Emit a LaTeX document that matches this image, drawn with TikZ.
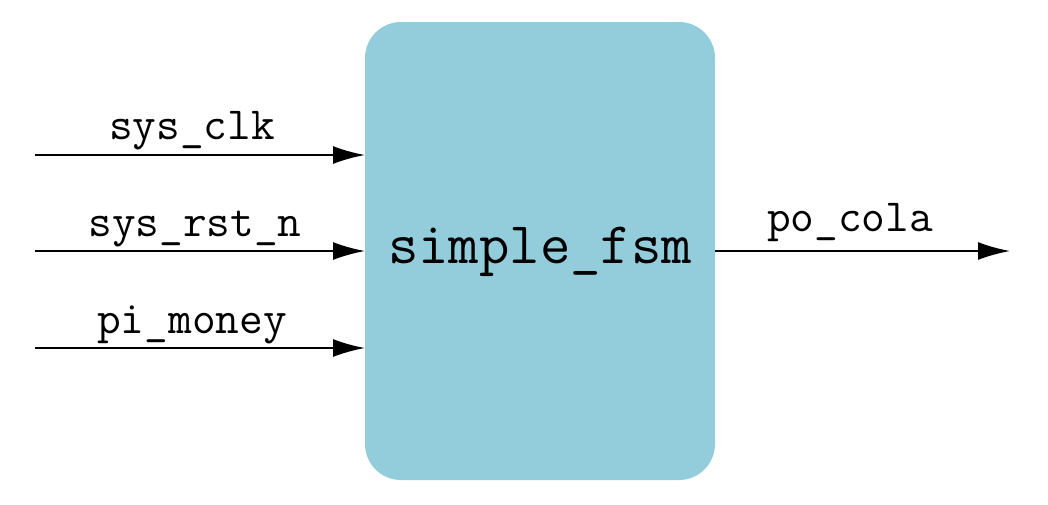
\documentclass[tikz,border=0pt]{standalone}
\usetikzlibrary{arrows.meta}
\definecolor{boxblue}{HTML}{93CCDB}
\begin{document}
\begin{tikzpicture}[x=1pt,y=-1pt,
  sig/.style={line width=2pt,-{Latex[length=32pt,width=18pt]}},
  lbl/.style={font=\ttfamily\fontsize{46}{46}\selectfont,inner sep=0pt,anchor=base}]
\useasboundingbox (0,0) rectangle (1048,504);
\node[fill=boxblue,rounded corners=36pt,minimum width=350pt,minimum height=458pt,inner sep=0pt] (fsm) at (540,251) {};
\node[font=\ttfamily\fontsize{59}{59}\selectfont,inner sep=0pt] (t) at (540,252) {simple\_fsm};
\coordinate (a1) at (35,155); \coordinate (b1) at (365,155);
\coordinate (a2) at (35,251); \coordinate (b2) at (365,251);
\coordinate (a3) at (35,348); \coordinate (b3) at (365,348);
\coordinate (c) at (715,251); \coordinate (d) at (1010,251);
\draw[sig] (a1) -- (b1);
\draw[sig] (a2) -- (b2);
\draw[sig] (a3) -- (b3);
\draw[sig] (c) -- (d);
\node[lbl] (l1) at (192,139) {sys\_clk};
\node[lbl] (l2) at (195,236) {sys\_rst\_n};
\node[lbl] (l3) at (192,333) {pi\_money};
\node[lbl] (l4) at (850,231) {po\_cola};
\end{tikzpicture}
\end{document}
